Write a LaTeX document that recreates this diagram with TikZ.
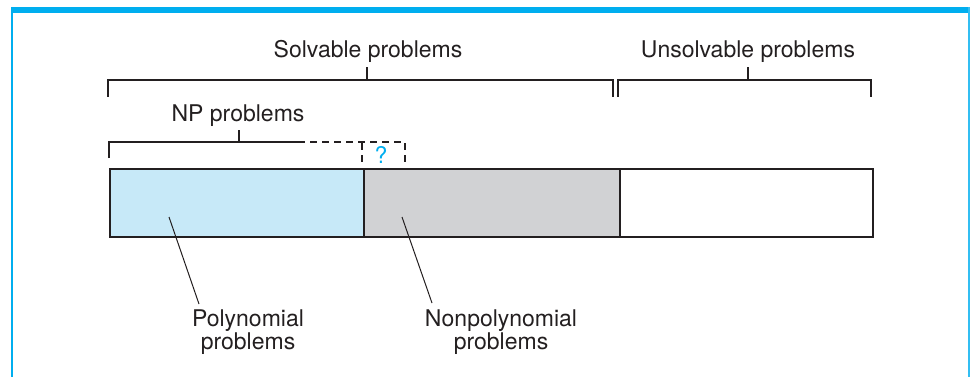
\documentclass[tikz,border=0pt]{standalone}
\usepackage{fontspec}
\setmainfont{TeX Gyre Heros}
\definecolor{framecyan}{HTML}{00AEEF}
\definecolor{ink}{HTML}{231F20}
\definecolor{polyblue}{HTML}{C7E9F8}
\definecolor{npgrey}{HTML}{D1D2D4}
\begin{document}
\begin{tikzpicture}[x=1pt,y=-1pt,
  lbl/.style={inner sep=0pt, text=ink, font=\fontsize{23}{24}\selectfont},
  twolbl/.style={lbl, align=center, font=\fontsize{23}{21.5}\selectfont},
  brk/.style={draw=ink, line width=1.4pt},
  dsh/.style={draw=ink, line width=1.4pt, dash pattern=on 7pt off 5pt},
  region/.style={draw=ink, line width=2pt, inner sep=0pt, minimum height=68pt, anchor=north west},
  leader/.style={draw=ink, line width=1pt}]
\useasboundingbox (0,0) rectangle (974,377);
% frame
\fill[framecyan] (11,7) rectangle (970,13);
\draw[framecyan, line width=1.5pt] (11.75,7) -- (11.75,377);
\draw[framecyan!80!white, line width=2pt] (969,7) -- (969,377);
% labels
\node[lbl, anchor=base] (solv) at (368,58) {Solvable problems};
\node[lbl, anchor=base] (unsolv) at (748,58) {Unsolvable problems};
\node[lbl, anchor=base] (np) at (238,122) {NP problems};
\node[lbl, anchor=base, text=framecyan] (q) at (381,163) {?};
\node[twolbl, anchor=north] (polylbl) at (248,310) {Polynomial\\problems};
\node[twolbl, anchor=north] (nplbl) at (501,310) {Nonpolynomial\\problems};
% brackets
\draw[brk] (108,97) -- (108,80) -- (613,80) -- (613,97);
\draw[brk] (367,80) -- (367,67);
\draw[brk] (618,97) -- (618,80) -- (871,80) -- (871,97);
\draw[brk] (748,80) -- (748,67);
\draw[brk] (109,158) -- (109,142) -- (298,142);
\draw[brk] (239,142) -- (239,130);
\draw[dsh] (298,142) -- (405,142);
\draw[dsh] (362,143) -- (362,164);
\draw[dsh] (405,143) -- (405,164);
% regions
\node[region, fill=polyblue, minimum width=254pt] (poly) at (109,168) {};
\node[region, fill=npgrey, minimum width=256pt] (nonpoly) at (363,168) {};
\node[region, fill=white, minimum width=253pt] (unsolvbox) at (619,168) {};
% leaders
\coordinate (pa) at (169,217);
\coordinate (pb) at (199,304);
\coordinate (na) at (402,217);
\coordinate (nb) at (432,303);
\draw[leader] (pa) -- (pb);
\draw[leader] (na) -- (nb);
\end{tikzpicture}
\end{document}
